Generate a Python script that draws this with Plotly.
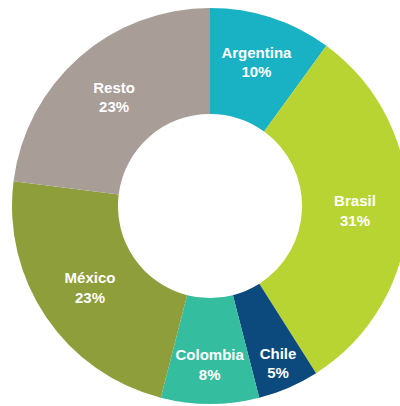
import plotly.graph_objects as go

countries = ["Argentina", "Brasil", "Chile", "Colombia", "México", "Resto"]
shares = [10, 31, 5, 8, 23, 23]
colors = ["#18B2C4", "#B8D433", "#0C4A7E", "#34BD9F", "#8E9E3B", "#A99D98"]

W, H = 420, 406
cx, cy, R = 210, 206, 198

fig = go.Figure(go.Pie(
    labels=countries,
    values=shares,
    hole=0.465,
    sort=False,
    direction="clockwise",
    rotation=0,
    marker=dict(colors=colors, line=dict(width=0)),
    texttemplate="<b>%{label}</b><br><b>%{value}%</b>",
    textposition="inside",
    insidetextorientation="horizontal",
    textfont=dict(family="Liberation Sans, Arial, sans-serif", size=15, color="white"),
    domain=dict(x=[(cx - R) / W, (cx + R) / W], y=[(H - cy - R) / H, (H - cy + R) / H]),
    showlegend=False,
))
fig.update_layout(
    width=W, height=H,
    margin=dict(l=0, r=0, t=0, b=0),
    paper_bgcolor="white",
    plot_bgcolor="white",
)
fig.write_html(
    "out.html",
    config={"displayModeBar": False},
    post_script="document.documentElement.style.overflow='hidden';document.body.style.overflow='hidden';document.body.style.margin='0';",
)
